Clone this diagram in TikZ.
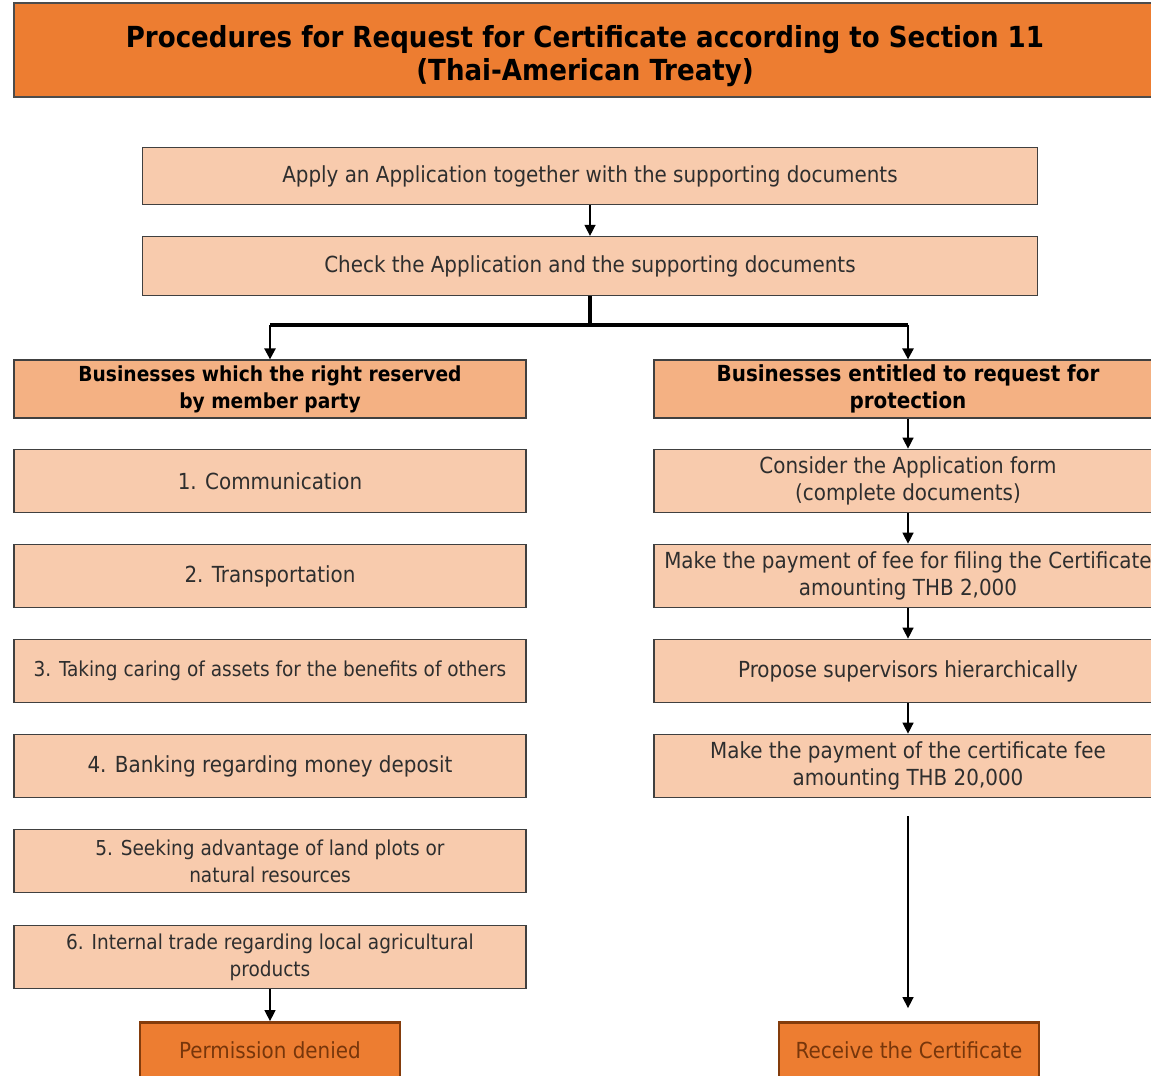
\documentclass[tikz,border=0pt]{standalone}
\usepackage{fontspec}
\setmainfont{DejaVu Sans Condensed}
\usepackage{xcolor}
\usetikzlibrary{arrows.meta}
\definecolor{titleorange}{HTML}{ED7D31}
\definecolor{peach}{HTML}{F8CBAD}
\definecolor{headpeach}{HTML}{F4B183}
\definecolor{darkbrown}{HTML}{843C0C}
\tikzset{
    stepbox/.style={
        draw=black!75,
        fill=peach,
        line width=0.7pt,
        align=center,
        inner sep=2pt,
        text=black!82,
        font=\fontsize{12.6}{15.4}\selectfont
    },
    smallbox/.style={
        stepbox,
        font=\fontsize{11.7}{15.4}\selectfont
    },
    headbox/.style={
        stepbox,
        fill=headpeach,
        text=black,
        font=\bfseries\fontsize{12.6}{15.4}\selectfont
    },
    endbox/.style={
        draw=darkbrown,
        line width=1.6pt,
        fill=titleorange,
        text=darkbrown!90!black,
        minimum width=5.2cm,
        minimum height=1.1cm,
        font=\fontsize{12.6}{15.4}\selectfont
    },
    flow/.style={
        -{Triangle[length=2.2mm, width=2.2mm]},
        line width=0.8pt
    },
    trunk/.style={line width=2.4pt}
}

\begin{document}
\begin{tikzpicture}[x=0.02cm, y=-0.02cm]
  \clip (0,0) rectangle (1151,1075);
  \fill[white] (0,0) rectangle (1151,1075);

  % Title
  \node[draw=black!70, fill=titleorange, line width=1pt,
        minimum width=22.84cm, minimum height=1.88cm] (titlebar) at (585,50) {};
  \node[align=center, font=\bfseries\fontsize{16.5}{19}\selectfont] (title) at (585,56)
    {Procedures for Request for Certificate according to Section 11\\(Thai-American Treaty)};

  % Common steps
  \node[stepbox, minimum width=17.9cm, minimum height=1.14cm] (apply) at (590,176)
    {Apply an Application together with the supporting documents};
  \node[stepbox, minimum width=17.9cm, minimum height=1.18cm] (check) at (590,266)
    {Check the Application and the supporting documents};

  % Left branch
  \node[headbox, font=\bfseries\fontsize{11.8}{15.4}\selectfont,
        minimum width=10.24cm, minimum height=1.16cm] (reserved) at (270,389)
    {Businesses which the right reserved\\by member party};
  \node[stepbox, minimum width=10.24cm, minimum height=1.27cm] (comm) at (270,481)
    {1. Communication};
  \node[stepbox, minimum width=10.24cm, minimum height=1.27cm] (transp) at (270,576)
    {2. Transportation};
  \node[smallbox, minimum width=10.24cm, minimum height=1.27cm] (assets) at (270,671)
    {3. Taking caring of assets for the benefits of others};
  \node[stepbox, minimum width=10.24cm, minimum height=1.27cm] (banking) at (270,766)
    {4. Banking regarding money deposit};
  \node[smallbox, minimum width=10.24cm, minimum height=1.27cm] (land) at (270,861)
    {5. Seeking advantage of land plots or\\natural resources};
  \node[smallbox, minimum width=10.24cm, minimum height=1.27cm] (trade) at (270,957)
    {6. Internal trade regarding local agricultural\\products};
  \node[endbox] (denied) at (270,1050) {Permission denied};

  % Right branch
  \node[headbox, minimum width=10.16cm, minimum height=1.16cm] (entitled) at (908,389)
    {Businesses entitled to request for\\protection};
  \node[stepbox, minimum width=10.16cm, minimum height=1.27cm] (consider) at (908,481)
    {Consider the Application form\\(complete documents)};
  \node[stepbox, minimum width=10.16cm, minimum height=1.27cm] (filefee) at (908,576)
    {Make the payment of fee for filing the Certificate\\amounting THB 2,000};
  \node[stepbox, minimum width=10.16cm, minimum height=1.27cm] (propose) at (908,671)
    {Propose supervisors hierarchically};
  \node[stepbox, minimum width=10.16cm, minimum height=1.27cm] (certfee) at (908,766)
    {Make the payment of the certificate fee\\amounting THB 20,000};
  \node[endbox] (receive) at (909,1050) {Receive the Certificate};

  % Connectors
  \draw[flow] (apply) -- (check);
  \coordinate (split) at (590,325);
  \draw[trunk] (check.south) -- (split);
  \draw[trunk] (split -| reserved.north) -- (split -| entitled.north);
  \draw[flow, line width=1.4pt] (split -| reserved.north) -- (reserved.north);
  \draw[flow, line width=1.4pt] (split -| entitled.north) -- (entitled.north);

  \draw[flow] (trade) -- (denied);

  \draw[flow] (entitled) -- (consider);
  \draw[flow] (consider) -- (filefee);
  \draw[flow] (filefee) -- (propose);
  \draw[flow] (propose) -- (certfee);
  \draw[flow, shorten <=0.36cm, shorten >=0.26cm] (certfee.south) -- (certfee.south |- receive.north);
\end{tikzpicture}
\end{document}
